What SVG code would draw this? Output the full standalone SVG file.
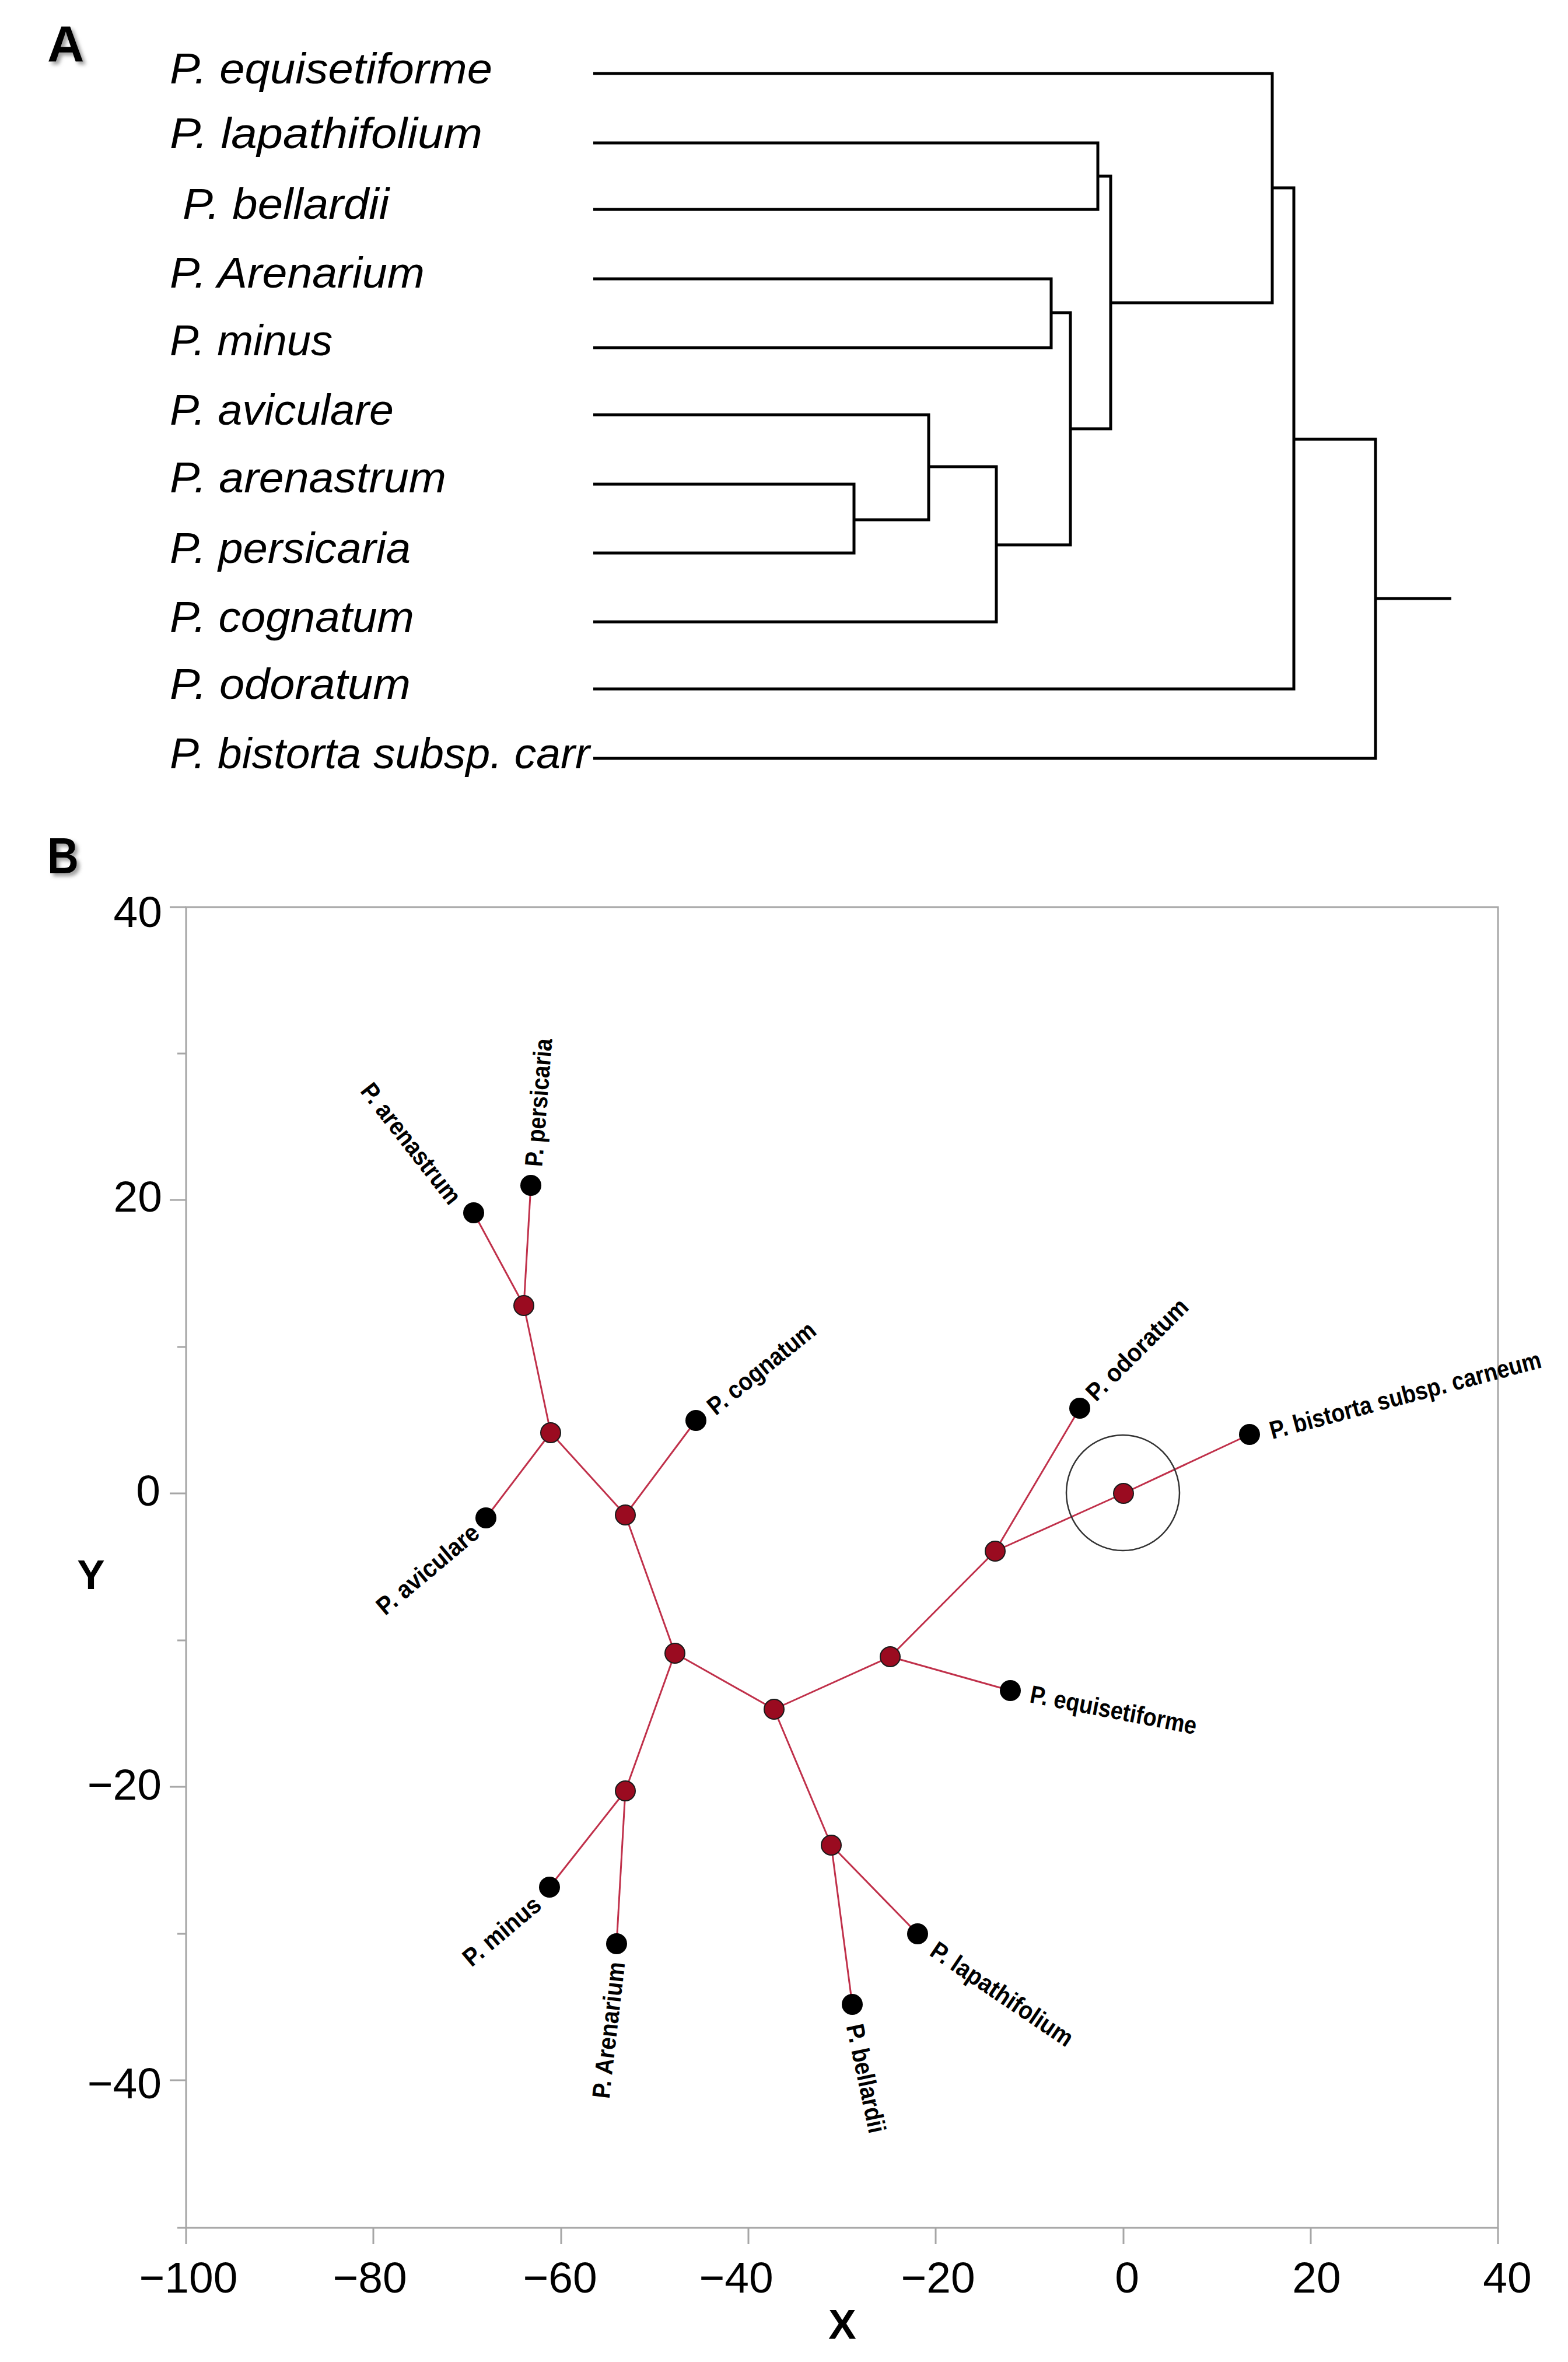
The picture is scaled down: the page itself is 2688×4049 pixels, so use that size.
<svg xmlns="http://www.w3.org/2000/svg" width="2688" height="4049" viewBox="0 0 2688 4049">
<defs>
<style>
.dend{fill:none;stroke:#000;stroke-width:5;stroke-linejoin:miter}
.edge{stroke:#c0304a;stroke-width:3;fill:none}
.leaf{fill:#000}
.inode{fill:#9a0b20;stroke:#1a1a1a;stroke-width:2}
.axis{stroke:#a6a6a6;stroke-width:3;fill:none}
.lblA{font-family:"Liberation Sans",Arial,sans-serif;font-style:italic;font-size:75px;fill:#000}
.lblB{font-family:"Liberation Sans",Arial,sans-serif;font-weight:bold;font-size:43px;fill:#000}
.num{font-family:"Liberation Sans",Arial,sans-serif;font-size:75px;fill:#000}
.ttl{font-family:"Liberation Sans",Arial,sans-serif;font-weight:bold;font-size:88px;fill:#000}
.axl{font-family:"Liberation Sans",Arial,sans-serif;font-weight:bold;font-size:71px;fill:#000}
</style>
<filter id="sh" x="-30%" y="-30%" width="160%" height="160%">
<feDropShadow dx="5" dy="5" stdDeviation="3" flood-color="#777" flood-opacity="0.7"/>
</filter>
</defs>
<rect width="2688" height="4049" fill="#fff"/>

<!-- Panel titles -->
<text class="ttl" x="81" y="105" filter="url(#sh)">A</text>
<text class="ttl" x="81" y="1497" textLength="54" lengthAdjust="spacingAndGlyphs" filter="url(#sh)">B</text>

<!-- Panel A: dendrogram connectors -->
<g id="dendrogram-connectors">
<path class="dend" d="M1017 245 H1882 V359 H1017"/>
<path class="dend" d="M1017 478 H1802 V596 H1017"/>
<path class="dend" d="M1017 830 H1464 V948 H1017"/>
<path class="dend" d="M1017 711 H1592 V891 H1464"/>
<path class="dend" d="M1592 800 H1708 V1066 H1017"/>
<path class="dend" d="M1708 934 H1835 V536 H1802"/>
<path class="dend" d="M1835 735 H1904 V302 H1882"/>
<path class="dend" d="M1017 126 H2181 V519 H1904"/>
<path class="dend" d="M2181 322 H2218 V1181 H1017"/>
<path class="dend" d="M2218 753 H2358 V1300 H1017"/>
<path class="dend" d="M2358 1026 H2488"/>
</g>

<!-- Panel A: leaf labels -->
<g id="a-equisetiforme"><text class="lblA" x="291" y="143" textLength="553" lengthAdjust="spacingAndGlyphs">P. equisetiforme</text></g>
<g id="a-lapathifolium"><text class="lblA" x="291" y="254" textLength="536" lengthAdjust="spacingAndGlyphs">P. lapathifolium</text></g>
<g id="a-bellardii"><text class="lblA" x="313" y="375" textLength="354" lengthAdjust="spacingAndGlyphs">P. bellardii</text></g>
<g id="a-Arenarium"><text class="lblA" x="291" y="493" textLength="437" lengthAdjust="spacingAndGlyphs">P. Arenarium</text></g>
<g id="a-minus"><text class="lblA" x="291" y="609" textLength="279" lengthAdjust="spacingAndGlyphs">P. minus</text></g>
<g id="a-aviculare"><text class="lblA" x="291" y="728" textLength="384" lengthAdjust="spacingAndGlyphs">P. aviculare</text></g>
<g id="a-arenastrum"><text class="lblA" x="291" y="844" textLength="474" lengthAdjust="spacingAndGlyphs">P. arenastrum</text></g>
<g id="a-persicaria"><text class="lblA" x="291" y="965" textLength="413" lengthAdjust="spacingAndGlyphs">P. persicaria</text></g>
<g id="a-cognatum"><text class="lblA" x="291" y="1083" textLength="419" lengthAdjust="spacingAndGlyphs">P. cognatum</text></g>
<g id="a-odoratum"><text class="lblA" x="291" y="1198" textLength="413" lengthAdjust="spacingAndGlyphs">P. odoratum</text></g>
<g id="a-bistorta"><text class="lblA" x="291" y="1317" textLength="720" lengthAdjust="spacingAndGlyphs">P. bistorta subsp. carr</text></g>

<!-- Panel B: axes -->
<g id="axes">
<rect class="axis" x="319" y="1555" width="2249" height="2264"/>
<path class="axis" d="M291 1555 H319 M291 2057 H319 M291 2560 H319 M291 3063 H319 M291 3566 H319 M304 1806 H319 M304 2309 H319 M304 2812 H319 M304 3315 H319 M304 3819 H319"/>
<path class="axis" d="M319 3819 V3847 M640 3819 V3847 M962 3819 V3847 M1283 3819 V3847 M1604 3819 V3847 M1926 3819 V3847 M2247 3819 V3847 M2568 3819 V3847"/>
<text class="num" x="278" y="1589" text-anchor="end">40</text>
<text class="num" x="278" y="2077" text-anchor="end">20</text>
<text class="num" x="275" y="2581" text-anchor="end">0</text>
<text class="num" x="277" y="3085" text-anchor="end">−20</text>
<text class="num" x="277" y="3597" text-anchor="end">−40</text>
<text class="num" x="323" y="3930" text-anchor="middle">−100</text>
<text class="num" x="634" y="3930" text-anchor="middle">−80</text>
<text class="num" x="960" y="3930" text-anchor="middle">−60</text>
<text class="num" x="1262" y="3930" text-anchor="middle">−40</text>
<text class="num" x="1608" y="3930" text-anchor="middle">−20</text>
<text class="num" x="1932" y="3930" text-anchor="middle">0</text>
<text class="num" x="2257" y="3930" text-anchor="middle">20</text>
<text class="num" x="2584" y="3930" text-anchor="middle">40</text>
<text class="axl" x="156" y="2724" text-anchor="middle">Y</text>
<text class="axl" x="1444" y="4009" text-anchor="middle">X</text>
</g>

<!-- Panel B: tree connectors -->
<g id="tree-connectors">
<line class="edge" x1="1926" y1="2560" x2="2142" y2="2459"/>
<line class="edge" x1="1926" y1="2560" x2="1706" y2="2659"/>
<line class="edge" x1="1706" y1="2659" x2="1851" y2="2414"/>
<line class="edge" x1="1706" y1="2659" x2="1526" y2="2840"/>
<line class="edge" x1="1526" y1="2840" x2="1732" y2="2898"/>
<line class="edge" x1="1526" y1="2840" x2="1327" y2="2930"/>
<line class="edge" x1="1327" y1="2930" x2="1425" y2="3163"/>
<line class="edge" x1="1425" y1="3163" x2="1573" y2="3315"/>
<line class="edge" x1="1425" y1="3163" x2="1461" y2="3436"/>
<line class="edge" x1="1327" y1="2930" x2="1157" y2="2834"/>
<line class="edge" x1="1157" y1="2834" x2="1072" y2="3070"/>
<line class="edge" x1="1072" y1="3070" x2="942" y2="3235"/>
<line class="edge" x1="1072" y1="3070" x2="1057" y2="3332"/>
<line class="edge" x1="1157" y1="2834" x2="1072" y2="2597"/>
<line class="edge" x1="1072" y1="2597" x2="1193" y2="2435"/>
<line class="edge" x1="1072" y1="2597" x2="944" y2="2456"/>
<line class="edge" x1="944" y1="2456" x2="833" y2="2602"/>
<line class="edge" x1="944" y1="2456" x2="898" y2="2238"/>
<line class="edge" x1="898" y1="2238" x2="812" y2="2079"/>
<line class="edge" x1="898" y1="2238" x2="910" y2="2032"/>
</g>

<!-- Panel B: root marker circle -->
<g id="root-marker"><ellipse cx="1925" cy="2559" rx="97" ry="99" fill="none" stroke="#333" stroke-width="2.5"/></g>

<!-- Panel B: internal nodes -->
<g id="n-root"><circle class="inode" cx="1926" cy="2560" r="17"/></g>
<g id="n-a"><circle class="inode" cx="1706" cy="2659" r="17"/></g>
<g id="n-b"><circle class="inode" cx="1526" cy="2840" r="17"/></g>
<g id="n-c"><circle class="inode" cx="1327" cy="2930" r="17"/></g>
<g id="n-d"><circle class="inode" cx="1425" cy="3163" r="17"/></g>
<g id="n-e"><circle class="inode" cx="1157" cy="2834" r="17"/></g>
<g id="n-f"><circle class="inode" cx="1072" cy="3070" r="17"/></g>
<g id="n-g"><circle class="inode" cx="1072" cy="2597" r="17"/></g>
<g id="n-h"><circle class="inode" cx="944" cy="2456" r="17"/></g>
<g id="n-i"><circle class="inode" cx="898" cy="2238" r="17"/></g>

<!-- Panel B: leaves -->
<g id="b-arenastrum"><circle class="leaf" cx="812" cy="2079" r="18"/>
<text class="lblB" dominant-baseline="central" text-anchor="middle" transform="translate(705 1960) rotate(52)" textLength="250" lengthAdjust="spacingAndGlyphs">P. arenastrum</text></g>
<g id="b-persicaria"><circle class="leaf" cx="910" cy="2032" r="18"/>
<text class="lblB" dominant-baseline="central" text-anchor="middle" transform="translate(923 1890) rotate(-85.5)" textLength="220" lengthAdjust="spacingAndGlyphs">P. persicaria</text></g>
<g id="b-aviculare"><circle class="leaf" cx="833" cy="2602" r="18"/>
<text class="lblB" dominant-baseline="central" text-anchor="middle" transform="translate(733 2690) rotate(-40)" textLength="215" lengthAdjust="spacingAndGlyphs">P. aviculare</text></g>
<g id="b-cognatum"><circle class="leaf" cx="1193" cy="2435" r="18"/>
<text class="lblB" dominant-baseline="central" text-anchor="middle" transform="translate(1305 2345) rotate(-39)" textLength="225" lengthAdjust="spacingAndGlyphs">P. cognatum</text></g>
<g id="b-minus"><circle class="leaf" cx="942" cy="3235" r="18"/>
<text class="lblB" dominant-baseline="central" text-anchor="middle" transform="translate(860 3310) rotate(-40)" textLength="160" lengthAdjust="spacingAndGlyphs">P. minus</text></g>
<g id="b-Arenarium"><circle class="leaf" cx="1057" cy="3332" r="18"/>
<text class="lblB" dominant-baseline="central" text-anchor="middle" transform="translate(1043 3480) rotate(-83.4)" textLength="235" lengthAdjust="spacingAndGlyphs">P. Arenarium</text></g>
<g id="b-bellardii"><circle class="leaf" cx="1461" cy="3436" r="18"/>
<text class="lblB" dominant-baseline="central" text-anchor="middle" transform="translate(1485 3563) rotate(78)" textLength="190" lengthAdjust="spacingAndGlyphs">P. bellardii</text></g>
<g id="b-lapathifolium"><circle class="leaf" cx="1573" cy="3315" r="18"/>
<text class="lblB" dominant-baseline="central" text-anchor="middle" transform="translate(1718 3418) rotate(34)" textLength="285" lengthAdjust="spacingAndGlyphs">P. lapathifolium</text></g>
<g id="b-equisetiforme"><circle class="leaf" cx="1732" cy="2898" r="18"/>
<text class="lblB" dominant-baseline="central" text-anchor="middle" transform="translate(1909 2931) rotate(11)" textLength="290" lengthAdjust="spacingAndGlyphs">P. equisetiforme</text></g>
<g id="b-odoratum"><circle class="leaf" cx="1851" cy="2414" r="18"/>
<text class="lblB" dominant-baseline="central" text-anchor="middle" transform="translate(1949 2313) rotate(-45)" textLength="228" lengthAdjust="spacingAndGlyphs">P. odoratum</text></g>
<g id="b-bistorta"><circle class="leaf" cx="2142" cy="2459" r="18"/>
<text class="lblB" dominant-baseline="central" text-anchor="middle" transform="translate(2409 2391) rotate(-14.9)" textLength="480" lengthAdjust="spacingAndGlyphs">P. bistorta subsp. carneum</text></g>
</svg>
